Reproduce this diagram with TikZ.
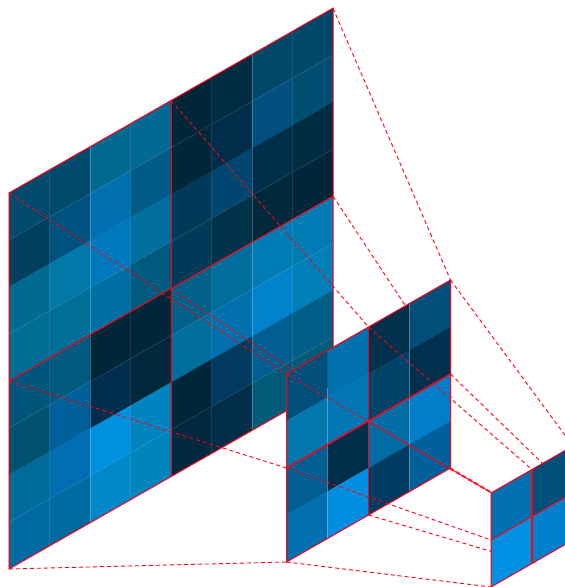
\documentclass[tikz,border=0pt]{standalone}
\usepackage{xcolor}
\usepackage{tikz}
\definecolor{gridred}{RGB}{255,0,20}
% one cell of a skewed grid, #3 = green and blue as hex
\newcommand{\gridcell}[3]{\definecolor{cellfill}{HTML}{00#3}\path[cell,fill=cellfill,draw=cellfill] (#1,#2) rectangle ++(1,1);}

\begin{document}
\begin{tikzpicture}[x=1pt,y=1pt,
	cell/.style={line width=0.1pt},
	thinline/.style={draw=white,opacity=0.1,line width=0.7pt},
	paleline/.style={draw=white,opacity=0.25,line width=0.8pt},
	border/.style={draw=gridred,line width=1pt},
	heavy/.style={draw=gridred,line width=1.4pt},
	link/.style={draw=gridred,line width=0.9pt,dash pattern=on 4pt off 3pt},
	bigmap/.style={cm={40.5,23.1,0,-47,(9pt,394pt)}},
	midmap/.style={cm={41,23.5,0,-47,(286.5pt,213pt)}},
	smallmap/.style={cm={41,23.5,0,-47,(491pt,94pt)}},
	]
	\clip (0,0) rectangle (565,587);
	
	% large grid
	\begin{scope}[bigmap]
	\foreach \vals [count=\r from 0] in {
		{4A6E,4A6E,6A90,6A94,263A,2C42,486A,486A},
		{3F5E,527E,70B0,5C86,263A,2E4A,4F7E,4F72},
		{6A90,78A8,78BC,6E9E,3A58,4670,2F4C,2C42},
		{6D94,6E96,70A4,5A80,3A58,324A,283C,263A},
		{557A,5A80,263A,263A,6088,6E9C,7CB5,7CB5},
		{5070,609A,2E4C,283C,6E9C,70AC,82CC,7FB8},
		{6A98,6EB0,90E0,84C0,263A,3A5E,5F90,5E88},
		{6AA0,6A9E,88C8,84BC,283E,2E48,5A78,5A78}}{
		\foreach \v [count=\c from 0] in \vals {\gridcell{\c}{\r}{\v}}}
	\foreach \i in {2,6}{\draw[paleline] (\i,0) -- (\i,8);}
	\foreach \j in {1,3,5,7}{\draw[thinline] (0,\j) -- (8,\j);}
	\foreach \i in {0,1,2}{\foreach \j in {0,1,2}{\coordinate (b\i;\j) at ({4*\i},{4*\j});}}
	\end{scope}
	\draw[border] (b0;0) -- (b2;0) -- (b2;2) -- (b0;2) -- cycle;
	\draw[border] (b1;0) -- (b1;2);
	\draw[border] (b0;1) -- (b2;1);
	
	% mid grid points
	\begin{scope}[midmap]
	\foreach \i in {0,1,2}{\foreach \j in {0,1,2}{\coordinate (m\i;\j) at ({2*\i},{2*\j});}}
	\end{scope}
	
	\draw[link] (b0;0) -- (m0;0);
	\draw[link] (b1;0) -- (m1;0);
	\draw[link] (b2;0) -- (m2;0);
	\draw[link] (b0;1) -- (m0;1);
	\draw[link] (b1;1) -- (m1;1);
	\draw[link] (b2;1) -- (m2;1);
	\draw[link] (b0;2) -- (m0;2);
	
	% mid grid
	\begin{scope}[midmap]
	\foreach \vals [count=\r from 0] in {
		{4F7A,70AE,304C,4F7A},{78AE,76B4,4268,304E},
		{5F90,2E48,6CA6,7FC8},{70B0,8EE0,3C62,609A}}{
		\foreach \v [count=\c from 0] in \vals {\gridcell{\c}{\r}{\v}}}
	\draw[paleline] (1,0.8) -- (1,4);
	\draw[paleline] (3,0) -- (3,4);
	\end{scope}
	\draw[border] (m0;0) -- (m2;0) -- (m2;2) -- (m0;2) -- cycle;
	\draw[heavy] (m1;0) -- (m1;2);
	\draw[heavy] (m0;1) -- (m2;1);
	
	% small grid points
	\begin{scope}[smallmap]
	\foreach \i in {0,1,2}{\foreach \j in {0,1,2}{\coordinate (s\i;\j) at (\i,\j);}}
	\end{scope}
	
	\foreach \i in {0,1,2}{\foreach \j in {0,1,2}{\draw[link] (m\i;\j) -- (s\i;\j);}}
	
	% small grid
	\begin{scope}[smallmap]
	\foreach \vals [count=\r from 0] in {{70B0,4F7A},{90E2,80CC}}{
		\foreach \v [count=\c from 0] in \vals {\gridcell{\c}{\r}{\v}}}
	\end{scope}
	\draw[border] (s0;0) -- (s2;0) -- (s2;2) -- (s0;2) -- cycle;
	\draw[heavy] (s1;0) -- (s1;2);
	\draw[border] (s0;1) -- (s2;1);
\end{tikzpicture}
\end{document}
